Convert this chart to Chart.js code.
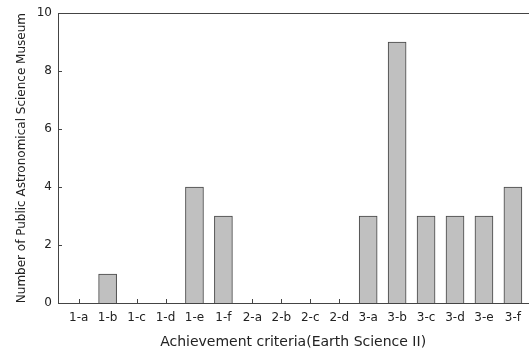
<!DOCTYPE html>
<html>
<head>
<meta charset="utf-8">
<script src="https://cdn.jsdelivr.net/npm/chart.js@4"></script>
<style>
  html, body { margin: 0; padding: 0; background: #fff; }
  #wrap { width: 529px; height: 351px; }
</style>
</head>
<body>
<div id="wrap"><canvas id="myChart" width="529" height="351"></canvas></div>
<script>
// chart data
const categories = ['1-a', '1-b', '1-c', '1-d', '1-e', '1-f', '2-a', '2-b', '2-c', '2-d', '3-a', '3-b', '3-c', '3-d', '3-e', '3-f'];
const museumCounts = [0, 1, 0, 0, 4, 3, 0, 0, 0, 0, 3, 9, 3, 3, 3, 4];
const yTicks = [0, 2, 4, 6, 8, 10];

const axisColor = '#444';
const fontFamily = '"DejaVu Sans", Verdana, sans-serif';

// inward tick marks + top border line
const frame = {
  id: 'frame',
  beforeDatasetsDraw(chart) {
    const { ctx, chartArea, scales } = chart;
    ctx.save();
    ctx.strokeStyle = axisColor;
    ctx.lineWidth = 1;
    ctx.beginPath();
    categories.forEach((c, i) => {
      const x = Math.round(scales.x.getPixelForValue(i)) + 0.5;
      ctx.moveTo(x, chartArea.bottom);
      ctx.lineTo(x, chartArea.bottom - 4);
    });
    yTicks.forEach((v) => {
      const y = Math.round(scales.y.getPixelForValue(v)) + 0.5;
      ctx.moveTo(chartArea.left, y);
      ctx.lineTo(chartArea.left + 4, y);
    });
    ctx.stroke();
    ctx.restore();
  },
  afterDraw(chart) {
    const { ctx, chartArea } = chart;
    ctx.save();
    ctx.strokeStyle = axisColor;
    ctx.lineWidth = 1;
    ctx.beginPath();
    ctx.moveTo(chartArea.left, Math.round(chartArea.top) + 0.5);
    ctx.lineTo(chart.width, Math.round(chartArea.top) + 0.5);
    ctx.stroke();
    ctx.restore();
  }
};

const ctx = document.getElementById('myChart').getContext('2d');
new Chart(ctx, {
  type: 'bar',
  data: {
    datasets: [{
      data: museumCounts.map((v, i) => ({ x: i, y: v })),
      backgroundColor: '#c0c0c0',
      borderColor: '#444',
      borderWidth: 1,
      barThickness: 18
    }]
  },
  options: {
    responsive: false,
    animation: false,
    layout: { padding: { top: 12, right: 0, left: 0, bottom: 0 } },
    plugins: { legend: { display: false }, tooltip: { enabled: false } },
    scales: {
      x: {
        type: 'linear',
        offset: false,
        min: -0.714,
        max: 15.53,
        afterBuildTicks: (s) => { s.ticks = categories.map((c, i) => ({ value: i })); },
        afterFit: (s) => { s.height = 48; },
        grid: { display: false, drawTicks: false },
        border: { display: true, color: axisColor, width: 1 },
        ticks: {
          padding: 8,
          color: '#222',
          font: { family: fontFamily, size: 12 },
          autoSkip: false,
          maxRotation: 0,
          callback: (v) => categories[v]
        },
        title: {
          display: true,
          text: 'Achievement criteria(Earth Science II)',
          color: '#222',
          font: { family: fontFamily, size: 14 },
          padding: { top: 2, bottom: 0 }
        }
      },
      y: {
        min: 0,
        max: 10,
        afterBuildTicks: (s) => { s.ticks = yTicks.map((v) => ({ value: v })); },
        afterFit: (s) => { s.width = 58; },
        grid: { display: false, drawTicks: false },
        border: { display: true, color: axisColor, width: 1 },
        ticks: {
          padding: 6,
          color: '#222',
          font: { family: fontFamily, size: 12 }
        },
        title: {
          display: true,
          text: 'Number of Public Astronomical Science Museum',
          color: '#222',
          font: { family: fontFamily, size: 12 },
          padding: { top: 15, bottom: 0 }
        }
      }
    }
  },
  plugins: [frame]
});
</script>
</body>
</html>
